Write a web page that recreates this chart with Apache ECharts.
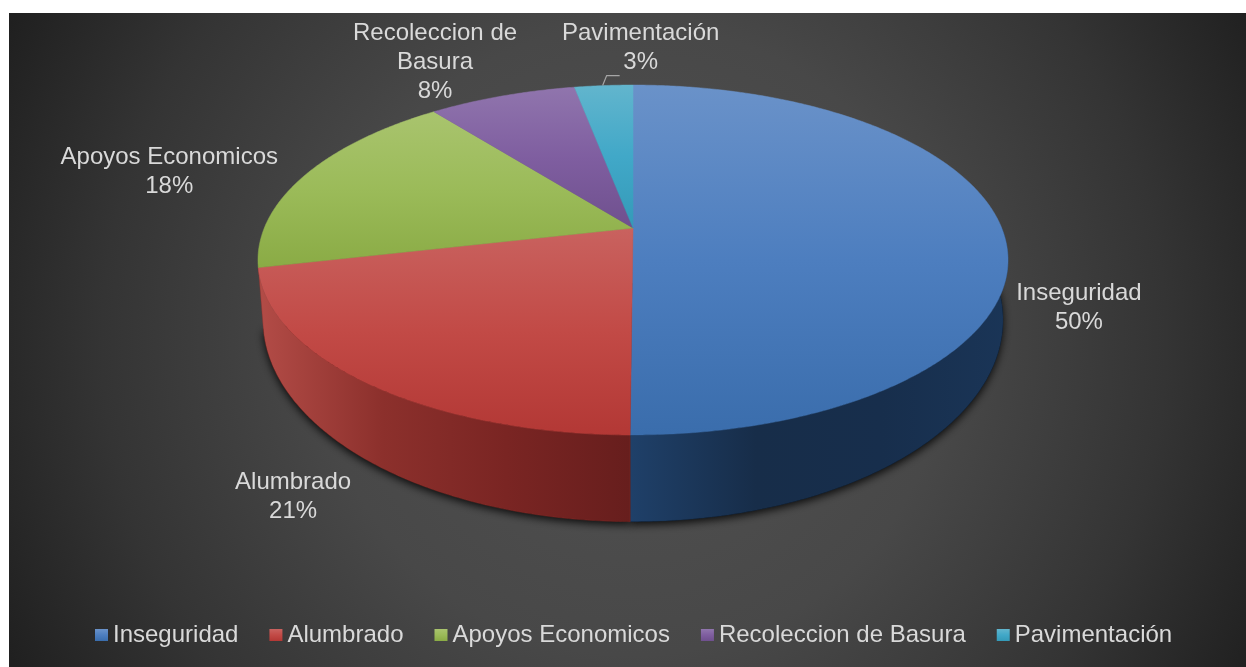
<!DOCTYPE html>
<html>
<head>
<meta charset="utf-8">
<style>
html, body { margin: 0; padding: 0; background: #fff; }
#main { width: 1246px; height: 667px; }
</style>
<script src="https://cdn.jsdelivr.net/npm/echarts@6/dist/echarts.min.js"></script>
</head>
<body>
<div id="main"></div>
<script>
var categories = ['Inseguridad', 'Alumbrado', 'Apoyos Economicos', 'Recoleccion de Basura', 'Pavimentación'];
var values = [50.1, 21.3, 18, 7.6, 3];
var labelLines = [['Inseguridad'], ['Alumbrado'], ['Apoyos Economicos'], ['Recoleccion de', 'Basura'], ['Pavimentación']];

var topStops = [
    ['#6a92c9', '#4d7ebf', '#3a6dac'],
    ['#c9625f', '#c24a46', '#b33835'],
    ['#a9c46e', '#9bbb59', '#8aab45'],
    ['#9075ad', '#7f5ea0', '#6f508e'],
    ['#62b5cd', '#41a8c8', '#349ab8']
];
var wallStops = [
    ['#1f4069', '#172d49', '#172e4c', '#1a3557'],
    ['#b34c47', '#8c302c', '#7a2523', '#671e1d'],
    ['#5c7032', '#5c7032', '#5c7032', '#5c7032'],
    ['#4a3560', '#4a3560', '#4a3560', '#4a3560'],
    ['#22677c', '#22677c', '#22677c', '#22677c']
];
// label centre relative to the rim point at the slice middle
var labelOffset = [[77, 79], [-71, 115], [-136, -3], [-67, -34], [37, -38]];

// perspective discs: top face and the floor the wall stands on
var cx = 633, persp = 0.1829;
var topDisc = { y: 228, rx: 368.7, ry: 169.1 };
var lowDisc = { y: 283, rx: 363.8, ry: 195 };
var wallStart = 90, wallEnd = 257;
var textColor = '#d9d9d9';
var textFont = '24px "Liberation Sans"';

var total = values.reduce(function (a, b) { return a + b; }, 0);

function rim(deg, disc) {
    var rad = deg * Math.PI / 180;
    var u = Math.sin(rad), v = -Math.cos(rad);
    var d = 1 - persp * v;
    return [cx + disc.rx * u / d, disc.y + disc.ry * v / d];
}

function arc(from, to, disc) {
    var pts = [];
    var n = Math.max(2, Math.ceil((to - from) * 2));
    for (var i = 0; i <= n; i++) {
        pts.push(rim(from + (to - from) * i / n, disc));
    }
    return pts;
}

function grad(stops, vertical) {
    var list = stops.map(function (c, i) {
        return { offset: i / (stops.length - 1), color: c };
    });
    return vertical ? new echarts.graphic.LinearGradient(0, 0, 0, 1, list)
                    : new echarts.graphic.LinearGradient(0, 0, 1, 0, list);
}

function renderSlice(idx) {
    return function (params, api) {
        var before = 0;
        for (var i = 0; i < idx; i++) before += values[i];
        var from = before / total * 360;
        var to = (before + api.value(0)) / total * 360;
        var topArc = arc(from, to, topDisc);
        var mid = rim((from + to) / 2, topDisc);
        var pct = Math.round(api.value(0) / total * 100) + '%';
        var off = labelOffset[idx];
        var fill = grad(topStops[idx], true);
        var children = [];

        // only the front of the wall can be seen
        var wallFrom = Math.max(from, wallStart), wallTo = Math.min(to, wallEnd);
        if (wallTo > wallFrom) {
            var wallTop = arc(wallFrom, wallTo, topDisc);
            var wallLow = arc(wallFrom, wallTo, lowDisc);
            children.push({
                type: 'polygon', z2: 0,
                shape: { points: [[cx, lowDisc.y]].concat(wallLow) },
                style: { fill: '#000', shadowColor: 'rgba(0,0,0,0.85)', shadowBlur: 9, shadowOffsetY: 3 }
            });
            children.push({
                type: 'polygon', z2: 1,
                shape: { points: wallTop.concat(wallLow.slice().reverse()) },
                style: { fill: grad(wallStops[idx], false), stroke: wallStops[idx][1], lineWidth: 0.4 }
            });
        }
        children.push({
            type: 'polygon', z2: 2,
            shape: { points: [[cx, topDisc.y]].concat(topArc) },
            style: { fill: fill, stroke: fill, lineWidth: 0.5 }
        });
        children.push({
            type: 'text', z2: 4,
            style: {
                text: labelLines[idx].concat(pct).join('\n'),
                x: mid[0] + off[0], y: mid[1] + off[1],
                fill: textColor, font: textFont, lineHeight: 29,
                align: 'center', verticalAlign: 'middle'
            }
        });
        if (idx === 4) {
            children.push({
                type: 'polyline', z2: 3,
                shape: { points: [[mid[0] - 1, mid[1]], [mid[0] + 3, mid[1] - 10], [mid[0] + 16, mid[1] - 10]] },
                style: { stroke: '#a6a6a6', lineWidth: 1.2, fill: null }
            });
        }
        return { type: 'group', children: children };
    };
}

var option = {
    animation: false,
    graphic: [{
        type: 'rect', z: -10, silent: true,
        shape: { x: 9, y: 13, width: 1237, height: 654 },
        style: {
            fill: new echarts.graphic.RadialGradient(634, 340, 700, [
                { offset: 0, color: '#525252' },
                { offset: 0.45, color: '#484848' },
                { offset: 0.76, color: '#343434' },
                { offset: 1, color: '#202020' }
            ], true)
        }
    }],
    legend: {
        left: 90, top: 618,
        itemWidth: 13, itemHeight: 12, itemGap: 31,
        icon: 'rect',
        data: categories,
        textStyle: { color: textColor, fontFamily: 'Liberation Sans', fontSize: 24 }
    },
    series: categories.map(function (name, i) {
        return {
            type: 'custom',
            name: name,
            coordinateSystem: 'none',
            renderItem: renderSlice(i),
            itemStyle: { color: grad(topStops[i], true) },
            data: [[values[i]]]
        };
    })
};

var myChart = echarts.init(document.getElementById('main'));
myChart.setOption(option);
</script>
</body>
</html>
